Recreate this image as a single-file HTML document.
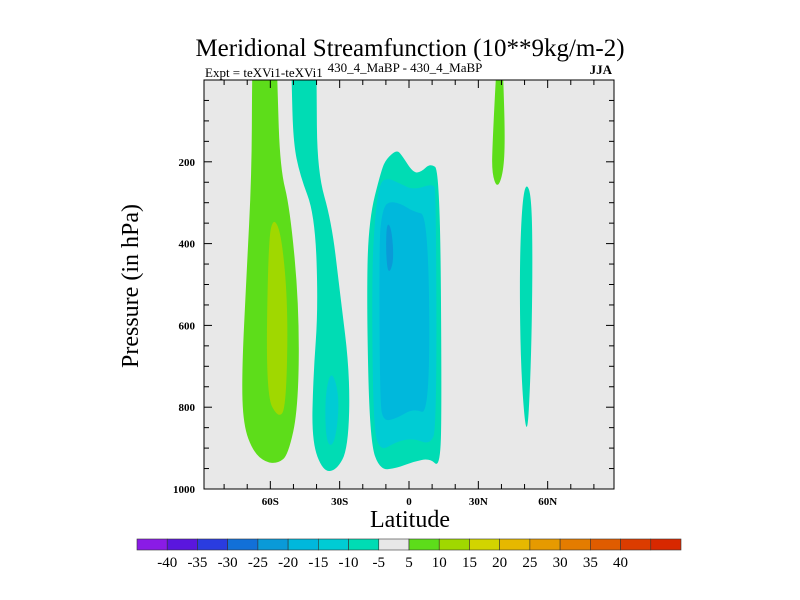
<!DOCTYPE html>
<html><head><meta charset="utf-8"><style>
body{margin:0;background:#fff;}
svg{display:block;font-family:"Liberation Serif",serif;}
</style></head><body>
<svg id="chart" width="800" height="600" viewBox="0 0 800 600">
<text x="410" y="56" font-size="25" text-anchor="middle">Meridional Streamfunction (10**9kg/m-2)</text>
<text x="205" y="77" font-size="13">Expt = teXVi1-teXVi1</text>
<text x="405" y="72" font-size="13" text-anchor="middle">430_4_MaBP - 430_4_MaBP</text>
<text x="612" y="74" font-size="13" font-weight="bold" text-anchor="end">JJA</text>
<rect x="204" y="80" width="410" height="409" fill="#e8e8e8"/>
<g id="fills"></g>
<rect x="204" y="80" width="410" height="409" fill="none" stroke="#000" stroke-width="1"/>
<g id="axes"></g>
<text x="410" y="527" font-size="24" text-anchor="middle">Latitude</text>
<text x="0" y="0" font-size="24" text-anchor="middle" transform="translate(138,286) rotate(-90)">Pressure (in hPa)</text>
<g id="colorbar"></g>
</svg>
<script>
const latTicks = [-60, -30, 0, 30, 60];
const latTickLabels = ["60S", "30S", "0", "30N", "60N"];
const presTicks = [200, 400, 600, 800, 1000];
const cbLevels = [-40,-35,-30,-25,-20,-15,-10,-5,5,10,15,20,25,30,35,40];
const cbColors = ["#8a1be6","#5a16de","#2a3ce0","#1270d8","#0a9ad8","#00b8dc","#00ccd4","#00dcb4","#e8e8e8","#5ddd1a","#a0d800","#d2d400","#e6b800","#e69a00","#e47c00","#e05c00","#dc3c00","#d82800"];
// contour regions: [colorIndex, lat/pressure points]
const regionSH5 = [[-67.7,-20],[-67.9,0],[-68.1,232],[-70.3,477],[-72.4,721],[-71.7,844],[-67.4,909],[-62,935],[-56.6,937],[-52.3,917],[-47.9,803],[-47.5,557],[-51.5,313],[-55.8,215],[-57,0],[-57,-20]];
const regionSH10 = [[-58.7,334],[-60.9,395],[-61.9,770],[-56.6,827],[-53.2,803],[-52.3,558],[-55.1,379]];
const regionMid5 = [[-50.8,-20],[-50.8,0],[-50.1,151],[-47.2,233],[-40.7,330],[-39.3,558],[-41.4,721],[-42.1,884],[-37.1,958],[-31.3,954],[-26.3,901],[-25.5,721],[-29.9,518],[-33.5,347],[-39.7,224],[-40,0],[-40,-20]];
const regionMid10 = [[-33.5,705],[-36.4,770],[-35.9,892],[-32,892],[-29.9,778]];
const regionEq5 = [[-17.6,347],[-12,220],[-9.7,192],[-5.3,171],[-3.2,183],[1.9,228],[5.5,224],[9.1,204],[13.4,220],[14.2,803],[13.4,949],[9.1,925],[1.9,933],[-5.3,949],[-12.6,954],[-16.9,884],[-18.3,558]];
const regionEq10 = [[-12.6,249],[-9,240],[-3.9,253],[1.9,269],[10.5,253],[11.7,273],[12,852],[9.1,892],[1.9,876],[-5.3,884],[-12.6,909],[-15.5,844],[-16.1,477],[-14.7,330]];
const regionEq15 = [[-9.7,297],[-3.9,301],[1.9,322],[8.4,330],[9.1,819],[1.9,803],[-5.3,827],[-11.1,835],[-12.6,786],[-12.9,395],[-11.8,330]];
const regionEq20 = [[-9.7,347],[-7.5,363],[-6.5,444],[-9,477],[-10,424]];
const regionNH5 = [[37.7,-20],[37.7,0],[40.7,0],[40.7,-20],[41.6,147],[40.8,227],[38.2,266],[35.8,227],[36.2,147]];
const regionNHneg = [[50.6,249],[53.1,285],[53.5,473],[52.7,717],[51,892],[48.4,717],[47.8,473],[48.8,310]];
const regions = [[9,regionSH5],[10,regionSH10],[7,regionMid5],[6,regionMid10],[7,regionEq5],[6,regionEq10],[5,regionEq15],[4,regionEq20],[9,regionNH5],[7,regionNHneg]];

const X0=204,X1=614,Y0=80,Y1=489,LATMAX=88.7;
function xs(lat){return (X0+X1)/2 + lat/LATMAX*(X1-X0)/2;}
function ys(p){return Y0 + p/1000*(Y1-Y0);}
const NS="http://www.w3.org/2000/svg";
function mk(tag,attrs,parent){const e=document.createElementNS(NS,tag);for(const k in attrs)e.setAttribute(k,attrs[k]);parent.appendChild(e);return e;}
function smoothPath(pts){
  const P=pts.map(d=>[xs(d[0]),ys(d[1])]);const n=P.length;
  const mid=(a,b)=>[(a[0]+b[0])/2,(a[1]+b[1])/2];
  let m0=mid(P[n-1],P[0]);let s="M"+m0;
  for(let i=0;i<n;i++){const m=mid(P[i],P[(i+1)%n]);s+=" Q"+P[i]+" "+m;}
  return s+"Z";
}
const fills=document.getElementById('fills');
const clip=mk('clipPath',{id:'pc'},mk('defs',{},document.getElementById('chart')));
mk('rect',{x:X0,y:Y0,width:X1-X0,height:Y1-Y0},clip);
fills.setAttribute('clip-path','url(#pc)');
regions.forEach(r=>{
  const el=mk('path',{d:smoothPath(r[1]),fill:cbColors[r[0]]},fills);
  
  
});
const axes=document.getElementById('axes');
for(let lat=-80;lat<=80;lat+=10){
  const x=xs(lat),maj=lat%30===0,L=maj?8:5;
  mk('line',{x1:x,x2:x,y1:Y1,y2:Y1-L,stroke:'#000'},axes);
  mk('line',{x1:x,x2:x,y1:Y0,y2:Y0+L,stroke:'#000'},axes);
}
latTicks.forEach((t,i)=>{
  const el=mk('text',{x:xs(t),y:Y1+16,'font-size':11,'font-weight':'bold','text-anchor':'middle'},axes);
  el.textContent=latTickLabels[i];
  
  
});
for(let p=50;p<1000;p+=50){
  const y=ys(p),maj=p%200===0,L=maj?8:5;
  mk('line',{x1:X0,x2:X0+L,y1:y,y2:y,stroke:'#000'},axes);
  mk('line',{x1:X1,x2:X1-L,y1:y,y2:y,stroke:'#000'},axes);
}
presTicks.forEach(p=>{
  const el=mk('text',{x:X0-9,y:ys(p)+4,'font-size':11,'font-weight':'bold','text-anchor':'end'},axes);
  el.textContent=p;
  
  
});
const cb=document.getElementById('colorbar');
const CBX0=137,CBX1=681,CBY=539,CBH=11,bw=(CBX1-CBX0)/cbColors.length;
cbColors.forEach((c,i)=>{
  const el=mk('rect',{x:CBX0+i*bw,y:CBY,width:bw,height:CBH,fill:c,stroke:'#333','stroke-width':0.6},cb);
  
  
});
cbLevels.forEach((v,i)=>{
  const el=mk('text',{x:CBX0+(i+1)*bw,y:CBY+CBH+17,'font-size':15,'text-anchor':'middle'},cb);
  el.textContent=v;
  
  
});
</script>
</body></html>
